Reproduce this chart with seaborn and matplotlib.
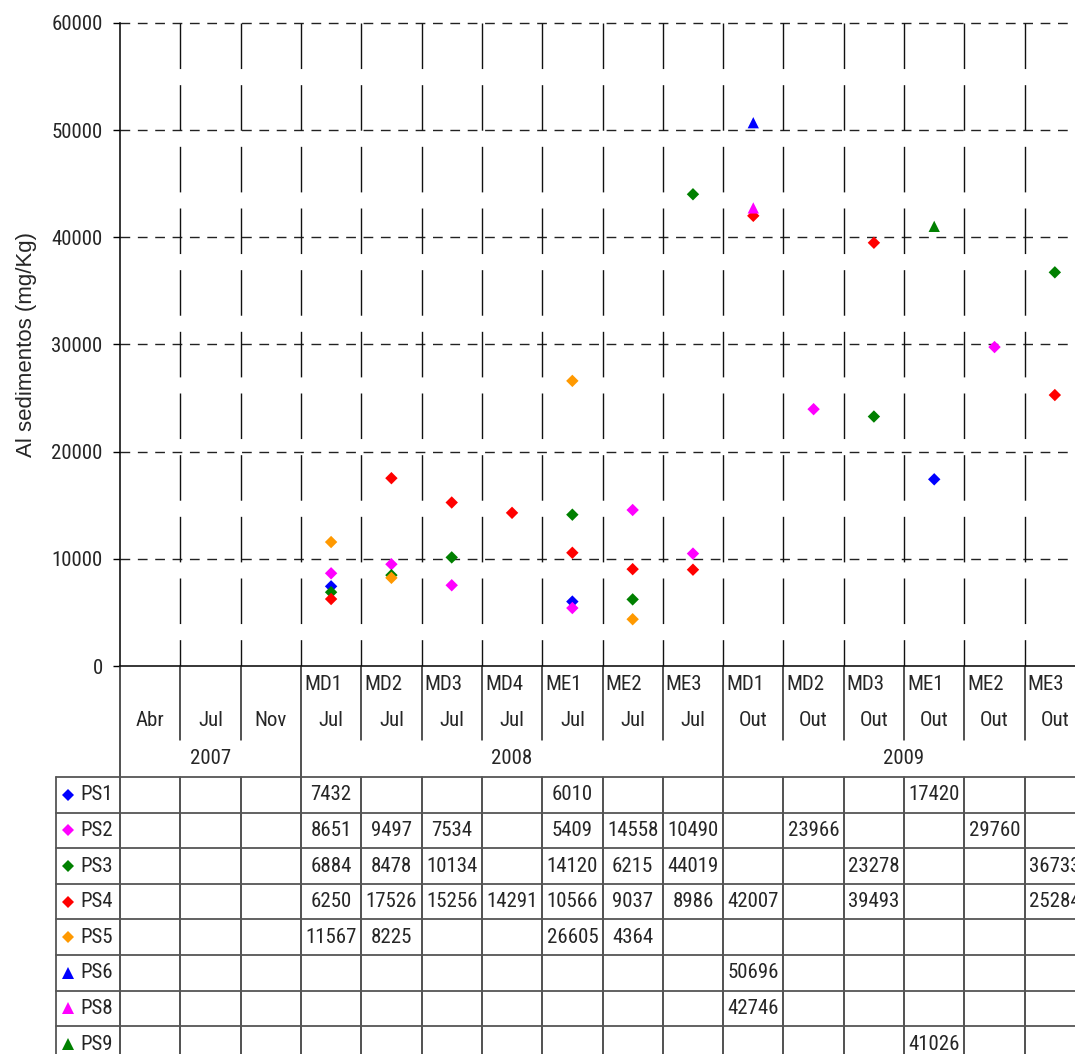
import numpy as np
import pandas as pd
import matplotlib
matplotlib.use("Agg")
import matplotlib.pyplot as plt
import matplotlib.transforms as mtrans
from matplotlib.lines import Line2D
import seaborn as sns

# ---------------- data ----------------
sites = ["", "", "", "MD1", "MD2", "MD3", "MD4", "ME1", "ME2", "ME3",
         "MD1", "MD2", "MD3", "ME1", "ME2", "ME3"]
months = ["Abr", "Jul", "Nov", "Jul", "Jul", "Jul", "Jul", "Jul", "Jul", "Jul",
          "Out", "Out", "Out", "Out", "Out", "Out"]
year_labels = ["2007", "2008", "2009"]
year_counts = [3, 7, 6]

N = None
PS1 = [N, N, N, 7432, N, N, N, 6010, N, N, N, N, N, 17420, N, N]
PS2 = [N, N, N, 8651, 9497, 7534, N, 5409, 14558, 10490, N, 23966, N, N, 29760, N]
PS3 = [N, N, N, 6884, 8478, 10134, N, 14120, 6215, 44019, N, N, 23278, N, N, 36733]
PS4 = [N, N, N, 6250, 17526, 15256, 14291, 10566, 9037, 8986, 42007, N, 39493, N, N, 25284]
PS5 = [N, N, N, 11567, 8225, N, N, 26605, 4364, N, N, N, N, N, N, N]
PS6 = [N, N, N, N, N, N, N, N, N, N, 50696, N, N, N, N, N]
PS8 = [N, N, N, N, N, N, N, N, N, N, 42746, N, N, N, N, N]
PS9 = [N, N, N, N, N, N, N, N, N, N, N, N, N, 41026, N, N]

series_names = ["PS1", "PS2", "PS3", "PS4", "PS5", "PS6", "PS8", "PS9"]
series_values = [PS1, PS2, PS3, PS4, PS5, PS6, PS8, PS9]
series_colors = ["#0000FF", "#FF00FF", "#008000", "#FF0000", "#FF9900",
                 "#0000FF", "#FF00FF", "#008000"]
series_markers = ["D", "D", "D", "D", "D", "^", "^", "^"]

y_ticks = [0, 10000, 20000, 30000, 40000, 50000, 60000]
y_label = "Al sedimentos (mg/Kg)"

# ---------------- style ----------------
sns.set_theme(style="white")
NARROW = ["Roboto Condensed", "Liberation Sans", "DejaVu Sans"]
REG = ["Liberation Sans", "DejaVu Sans"]
plt.rcParams["font.family"] = NARROW
FS = 15

W, H = 1075, 1054
fig = plt.figure(figsize=(W / 100, H / 100), dpi=100)
fig.patch.set_facecolor("white")

x0, x1 = 120, 1085
ytop, ybot = 23, 666
ax = fig.add_axes([x0 / W, (H - ybot) / H, (x1 - x0) / W, (ybot - ytop) / H])
ax.set_facecolor("white")

ncat = len(months)

rows = []
for name, vals in zip(series_names, series_values):
    for i, v in enumerate(vals):
        if v is not None:
            rows.append({"series": name, "x": i + 0.5, "value": v})
df = pd.DataFrame(rows)

palette = dict(zip(series_names, series_colors))
mdict = dict(zip(series_names, series_markers))
dia = [n for n, m in zip(series_names, series_markers) if m == "D"]
tri = [n for n, m in zip(series_names, series_markers) if m == "^"]

sns.scatterplot(data=df[df.series.isin(dia)], x="x", y="value", hue="series",
                style="series", palette={k: palette[k] for k in dia},
                markers={k: mdict[k] for k in dia}, s=40, linewidth=0,
                legend=False, ax=ax, zorder=4, clip_on=False)
sns.scatterplot(data=df[df.series.isin(tri)], x="x", y="value", hue="series",
                style="series", palette={k: palette[k] for k in tri},
                markers={k: mdict[k] for k in tri}, s=66, linewidth=0,
                legend=False, ax=ax, zorder=4, clip_on=False)

ax.set_xlim(0, ncat)
ax.set_ylim(0, 60000)
ax.set_xticks([])
ax.set_xlabel("")
ax.set_yticks(y_ticks)
ax.set_yticklabels([str(t) for t in y_ticks], fontsize=FS, family=NARROW)
ax.tick_params(axis="y", length=5, width=1, color="black", pad=7.5, left=True)
ax.set_ylabel(y_label, fontsize=16, family=REG)
ax.yaxis.set_label_coords(-0.086, 0.5)

for s in ["top", "right"]:
    ax.spines[s].set_visible(False)
for s in ["left", "bottom"]:
    ax.spines[s].set_color("black")
    ax.spines[s].set_linewidth(1.1)
ax.spines["bottom"].set_zorder(5)

# horizontal dashed gridlines
for t in y_ticks[1:]:
    ax.plot([0, ncat], [t, t], color="#222222", lw=1.0,
            linestyle=(0, (7, 5.5)), zorder=1, clip_on=False)
# vertical long-dash lines at category boundaries (pattern from top)
for b in range(1, ncat):
    ax.plot([b, b], [60000, 0], color="#111111", lw=1.0,
            linestyle=(0, (32.8, 11.6)), zorder=1, clip_on=False)

# ---------------- category labels & table ----------------
trans = mtrans.blended_transform_factory(ax.transData, fig.transFigure)


def fy(px):
    return 1 - px / H


year_bounds = [0]
for c in year_counts:
    year_bounds.append(year_bounds[-1] + c)

LC = "#222222"
for b in range(0, ncat):
    if b in year_bounds:
        fig.add_artist(Line2D([b, b], [fy(ybot), fy(777)], transform=trans,
                              color=LC, lw=1.1))
    else:
        fig.add_artist(Line2D([b, b], [fy(ybot), fy(740)], transform=trans,
                              color=LC, lw=1.1))
    fig.add_artist(Line2D([b, b], [fy(777), fy(H + 2)], transform=trans,
                          color=LC, lw=1.1))

for i in range(ncat):
    if sites[i]:
        fig.text(i + 0.05, fy(685), sites[i], transform=trans, fontsize=FS,
                 ha="left", va="center")
    fig.text(i + 0.5, fy(721), months[i], transform=trans, fontsize=FS,
             ha="center", va="center")

for lab, start, cnt in zip(year_labels, year_bounds[:-1], year_counts):
    fig.text(start + cnt / 2, fy(758), lab, transform=trans, fontsize=FS,
             ha="center", va="center")

# table grid
row_top = 777
row_h = 35.6
nrows = len(series_names)
for k in range(nrows + 1):
    yy = row_top + k * row_h
    fig.add_artist(Line2D([56 / W, 1.0], [fy(yy), fy(yy)],
                          transform=fig.transFigure, color="#555555", lw=1.3))
fig.add_artist(Line2D([56 / W, 56 / W], [fy(row_top), fy(H + 2)],
                      transform=fig.transFigure, color="#555555", lw=1.3))

for r, (name, vals) in enumerate(zip(series_names, series_values)):
    yc = fy(row_top + (r + 0.5) * row_h)
    fig.add_artist(Line2D([68 / W], [yc], transform=fig.transFigure,
                          marker=series_markers[r], color=series_colors[r],
                          markersize=6.2 if series_markers[r] == "D" else 8.0,
                          markeredgewidth=0, linestyle="none"))
    fig.text(80 / W, yc, name, fontsize=FS, ha="left", va="center")
    for i, v in enumerate(vals):
        if v is not None:
            fig.text(i + 0.5, yc, str(v), transform=trans, fontsize=FS,
                     ha="center", va="center")

fig.savefig("out.png", dpi=100, facecolor="white")
